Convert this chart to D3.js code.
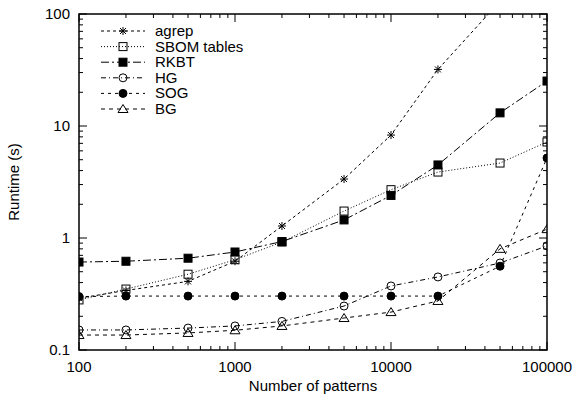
<!DOCTYPE html>
<html>
<head>
<meta charset="utf-8">
<script src="https://cdn.jsdelivr.net/npm/d3@7"></script>
<style>
  body { margin: 0; background: #fff; }
  svg { display: block; font-family: "Liberation Sans", Arial, sans-serif; }
</style>
</head>
<body>
<div id="chart"></div>
<script>
const patterns = [100, 200, 500, 1000, 2000, 5000, 10000, 20000, 50000, 100000];
const agrep = [0.29, 0.34, 0.41, 0.62, 1.28, 3.36, 8.3, 32, 130];
const sbom = [0.28, 0.35, 0.475, 0.64, 0.92, 1.74, 2.7, 3.88, 4.67, 7.2];
const rkbt = [0.61, 0.62, 0.66, 0.75, 0.93, 1.45, 2.4, 4.49, 13.1, 25.2];
const hg = [0.151, 0.151, 0.157, 0.164, 0.18, 0.247, 0.373, 0.449, 0.598, 0.85];
const sog = [0.30, 0.303, 0.303, 0.303, 0.303, 0.303, 0.303, 0.303, 0.56, 5.18];
const bg = [0.136, 0.136, 0.142, 0.15, 0.164, 0.193, 0.218, 0.274, 0.80, 1.2];
const xTicks = [100, 1000, 10000, 100000];
const yTicks = [0.1, 1, 10, 100];

const series = [
  {name: "agrep", values: agrep, dash: "3,3", marker: "star"},
  {name: "SBOM tables", values: sbom, dash: "1,2", marker: "square"},
  {name: "RKBT", values: rkbt, dash: "8,3,2,3", marker: "fsquare"},
  {name: "HG", values: hg, dash: "5,3,1,3", marker: "circle"},
  {name: "SOG", values: sog, dash: "3,4", marker: "fcircle"},
  {name: "BG", values: bg, dash: "4,4", marker: "triangle"}
];

const W = 577, H = 398;
const MARGIN = {TOP: 14, BOTTOM: 48, LEFT: 79, RIGHT: 30};
const WIDTH = W - MARGIN.LEFT - MARGIN.RIGHT;
const HEIGHT = H - MARGIN.TOP - MARGIN.BOTTOM;

const svg = d3.select("#chart").append("svg")
    .attr("width", W)
    .attr("height", H);
const g = svg.append("g")
    .attr("transform", `translate(${MARGIN.LEFT}, ${MARGIN.TOP})`);

const x = d3.scaleLog().domain([100, 100000]).range([0, WIDTH]);
const y = d3.scaleLog().domain([0.1, 100]).range([HEIGHT, 0]);

// minor ticks on all four sides, pointing inward
const minorX = [], minorY = [];
for (let d = 100; d < 100000; d *= 10) for (let k = 2; k < 10; k++) minorX.push(d * k);
for (let d = 0.1; d < 100; d *= 10) for (let k = 2; k < 10; k++) minorY.push(+(d * k).toPrecision(3));

const ticks = g.append("g").attr("stroke", "#000").attr("stroke-width", 1);
minorX.forEach(v => {
  ticks.append("line").attr("x1", x(v)).attr("x2", x(v)).attr("y1", HEIGHT).attr("y2", HEIGHT - 4);
  ticks.append("line").attr("x1", x(v)).attr("x2", x(v)).attr("y1", 0).attr("y2", 4);
});
xTicks.forEach(v => {
  ticks.append("line").attr("x1", x(v)).attr("x2", x(v)).attr("y1", HEIGHT).attr("y2", HEIGHT - 8);
  ticks.append("line").attr("x1", x(v)).attr("x2", x(v)).attr("y1", 0).attr("y2", 8);
});
minorY.forEach(v => {
  ticks.append("line").attr("y1", y(v)).attr("y2", y(v)).attr("x1", 0).attr("x2", 4);
  ticks.append("line").attr("y1", y(v)).attr("y2", y(v)).attr("x1", WIDTH).attr("x2", WIDTH - 4);
});
yTicks.forEach(v => {
  ticks.append("line").attr("y1", y(v)).attr("y2", y(v)).attr("x1", 0).attr("x2", 8);
  ticks.append("line").attr("y1", y(v)).attr("y2", y(v)).attr("x1", WIDTH).attr("x2", WIDTH - 8);
});

// tick labels
const fmt = d => String(d);
g.selectAll(".xl").data(xTicks).enter().append("text")
    .attr("x", d => x(d)).attr("y", HEIGHT + 22)
    .attr("text-anchor", "middle").attr("font-size", 15).text(fmt);
g.selectAll(".yl").data(yTicks).enter().append("text")
    .attr("x", -9).attr("y", d => y(d) + 5)
    .attr("text-anchor", "end").attr("font-size", 15).text(fmt);

// axis titles
svg.append("text")
    .attr("x", MARGIN.LEFT + WIDTH / 2).attr("y", 391)
    .attr("text-anchor", "middle").attr("font-size", 15)
    .text("Number of patterns");
svg.append("text")
    .attr("transform", `translate(19, ${MARGIN.TOP + HEIGHT / 2}) rotate(-90)`)
    .attr("text-anchor", "middle").attr("font-size", 15)
    .text("Runtime (s)");

// clip for data
svg.append("defs").append("clipPath").attr("id", "clip")
  .append("rect").attr("width", WIDTH).attr("height", HEIGHT);

function drawMarker(sel, type, cx, cy) {
  const s = 4;
  if (type === "star") {
    sel.append("path")
      .attr("d", `M${cx - s},${cy}L${cx + s},${cy}M${cx},${cy - s}L${cx},${cy + s}` +
                 `M${cx - s * .75},${cy - s * .75}L${cx + s * .75},${cy + s * .75}` +
                 `M${cx - s * .75},${cy + s * .75}L${cx + s * .75},${cy - s * .75}`)
      .attr("stroke", "#000").attr("stroke-width", 1).attr("fill", "none");
  } else if (type === "square" || type === "fsquare") {
    sel.append("rect").attr("x", cx - s).attr("y", cy - s).attr("width", 2 * s).attr("height", 2 * s)
      .attr("fill", type === "fsquare" ? "#000" : "#fff").attr("fill-opacity", type === "fsquare" ? 1 : 0)
      .attr("stroke", "#000").attr("stroke-width", 1);
  } else if (type === "circle" || type === "fcircle") {
    sel.append("circle").attr("cx", cx).attr("cy", cy).attr("r", 4)
      .attr("fill", type === "fcircle" ? "#000" : "none").attr("stroke", "#000").attr("stroke-width", 1);
  } else if (type === "triangle") {
    sel.append("path")
      .attr("d", `M${cx},${cy - 4.5}L${cx + 5},${cy + 3.5}L${cx - 5},${cy + 3.5}Z`)
      .attr("fill", "none").attr("stroke", "#000").attr("stroke-width", 1);
  }
}

const plot = g.append("g").attr("clip-path", "url(#clip)");
const line = d3.line().x((d, i) => x(patterns[i])).y(d => y(d));

series.forEach(s => {
  plot.append("path")
      .datum(s.values)
      .attr("d", line)
      .attr("fill", "none")
      .attr("stroke", "#000")
      .attr("stroke-width", 1)
      .attr("stroke-dasharray", s.dash);
  const mk = plot.append("g");
  s.values.forEach((v, i) => {
    if (v <= 100) drawMarker(mk, s.marker, x(patterns[i]), y(v));
  });
});

// frame
g.append("rect").attr("width", WIDTH).attr("height", HEIGHT)
    .attr("fill", "none").attr("stroke", "#000").attr("stroke-width", 1.5);

// legend
const leg = g.append("g").attr("transform", "translate(22, 17)");
series.forEach((s, i) => {
  const ly = i * 15.6;
  leg.append("line").attr("x1", 0).attr("x2", 44).attr("y1", ly).attr("y2", ly)
      .attr("stroke", "#000").attr("stroke-width", 1).attr("stroke-dasharray", s.dash);
  drawMarker(leg, s.marker, 22, ly);
  leg.append("text").attr("x", 54).attr("y", ly + 5).attr("font-size", 15).text(s.name);
});
</script>
</body>
</html>
